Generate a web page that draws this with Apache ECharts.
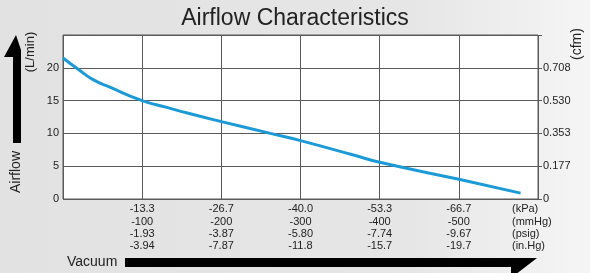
<!DOCTYPE html>
<html><head><meta charset="utf-8">
<script src="https://cdn.jsdelivr.net/npm/echarts@6/dist/echarts.min.js"></script>
<style>html,body{margin:0;padding:0;}#c{width:590px;height:273px;}</style>
</head><body><div id="c"></div>
<script>
// Data (x = vacuum in mmHg magnitude, y = airflow L/min)
const vacuumMmHg = [0, 20, 38, 60, 100, 130, 157, 200, 262, 300, 367, 400, 500, 578];
const airflowLmin = [21.5, 19.7, 18.2, 17.0, 15.0, 14.0, 13.1, 11.8, 10.0, 8.9, 6.7, 5.6, 3.0, 0.9];
const tickValues = [100, 200, 300, 400, 500];
const kPaLabels = ['-13.3', '-26.7', '-40.0', '-53.3', '-66.7'];
const mmHgLabels = ['-100', '-200', '-300', '-400', '-500'];
const psigLabels = ['-1.93', '-3.87', '-5.80', '-7.74', '-9.67'];
const inHgLabels = ['-3.94', '-7.87', '-11.8', '-15.7', '-19.7'];
const unitLabels = ['(kPa)', '(mmHg)', '(psig)', '(in.Hg)'];
const leftYLabels = ['0', '5', '10', '15', '20', ''];
const rightYLabels = ['0', '0.177', '0.353', '0.530', '0.708', ''];

const chart = echarts.init(document.getElementById('c'), null, {renderer: 'canvas'});
const FONT = 'Liberation Sans, Arial, sans-serif';
const TXT = '#222';
const GRID = '#5a5a5a';

const option = {
  backgroundColor: {
    type: 'linear', x: 0, y: 0, x2: 1, y2: 0,
    colorStops: [{offset: 0, color: '#e2e2e2'}, {offset: 0.7, color: '#e6e6e6'}, {offset: 1, color: '#f5f5f5'}]
  },
  animation: false,
  title: {
    text: 'Airflow Characteristics', left: 'center', top: 2,
    textStyle: {fontFamily: FONT, fontSize: 23, fontWeight: 'normal', color: TXT}
  },
  grid: {left: 63, right: 52, top: 35, bottom: 74, show: true, backgroundColor: '#fff', borderColor: GRID, borderWidth: 1},
  xAxis: {
    type: 'value', min: 0, max: 600, interval: 100,
    axisLine: {show: false}, axisTick: {show: false},
    splitLine: {show: true, lineStyle: {color: GRID, width: 1}},
    axisLabel: {
      margin: 4, fontFamily: FONT, fontSize: 11, color: TXT, lineHeight: 12.4,
      formatter: function (v) {
        const i = tickValues.indexOf(v);
        if (i < 0) return '';
        return [kPaLabels[i], mmHgLabels[i], psigLabels[i], inHgLabels[i]].join('\n');
      }
    }
  },
  yAxis: [{
    type: 'value', min: 0, max: 25, interval: 5, position: 'left',
    axisLine: {show: false}, axisTick: {show: false},
    splitLine: {show: true, lineStyle: {color: GRID, width: 1}},
    axisLabel: {margin: 4, fontFamily: FONT, fontSize: 11, color: TXT,
      formatter: function (v) { return leftYLabels[Math.round(v / 5)]; }}
  }, {
    type: 'value', min: 0, max: 25, interval: 5, position: 'right',
    axisLine: {show: false},
    axisTick: {show: true, length: 4, inside: false, lineStyle: {color: GRID}},
    splitLine: {show: false},
    axisLabel: {margin: 5, fontFamily: FONT, fontSize: 11, color: TXT,
      formatter: function (v) { return rightYLabels[Math.round(v / 5)]; }}
  }],
  series: [{
    type: 'line', smooth: 0.5, symbol: 'none', yAxisIndex: 0,
    data: vacuumMmHg.map((x, i) => [x, airflowLmin[i]]),
    lineStyle: {color: '#1c9ad6', width: 3}
  }],
  graphic: [
    {type: 'text', left: 512, top: 203, style: {text: unitLabels.join('\n'), font: '11px ' + FONT, fill: TXT, lineHeight: 12.4}},
    {type: 'text', x: 16, y: 172, rotation: Math.PI / 2, style: {text: 'Airflow', font: '14px ' + FONT, fill: TXT, align: 'center', verticalAlign: 'middle'}},
    {type: 'text', x: 30, y: 52, rotation: Math.PI / 2, style: {text: '(L/min)', font: '13px ' + FONT, fill: TXT, align: 'center', verticalAlign: 'middle'}},
    {type: 'text', x: 577, y: 44, rotation: Math.PI / 2, style: {text: '(cfm)', font: '14px ' + FONT, fill: TXT, align: 'center', verticalAlign: 'middle'}},
    {type: 'text', x: 67, y: 262, style: {text: 'Vacuum', font: '14px ' + FONT, fill: TXT, align: 'left', verticalAlign: 'middle'}},
    {type: 'polygon', shape: {points: [[16, 35], [21, 50], [21, 143], [13, 143], [13, 57], [4, 57]]}, style: {fill: '#000'}},
    {type: 'polygon', shape: {points: [[125, 258], [537, 258], [511, 278], [511, 267], [125, 267]]}, style: {fill: '#000'}}
  ]
};
chart.setOption(option);
</script>
</body></html>
